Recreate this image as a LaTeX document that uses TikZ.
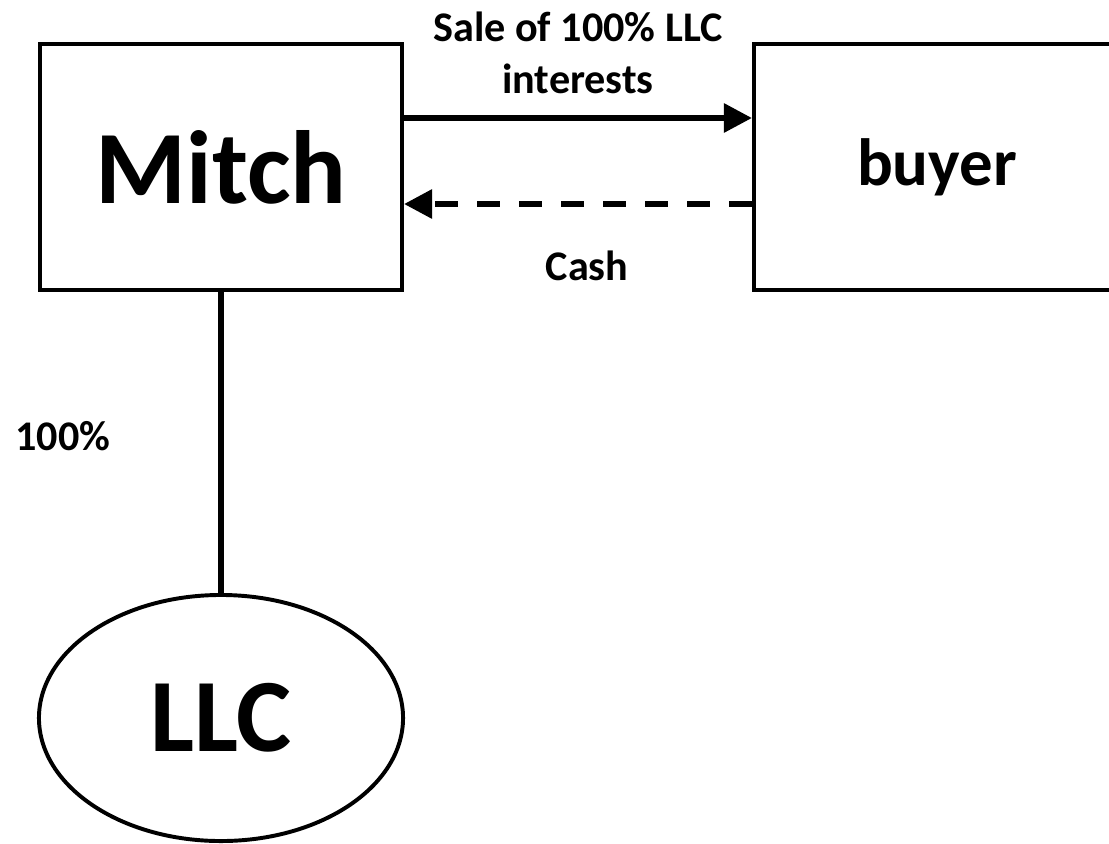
\documentclass[tikz,border=0pt]{standalone}
\usepackage{fontspec}
\setmainfont{Carlito}
\usetikzlibrary{arrows.meta,shapes.geometric,positioning}

\begin{document}
\begin{tikzpicture}[x=0.025cm, y=-0.025cm,
  party/.style={draw, line width=2.8pt, inner sep=0pt, font=\bfseries},
  flow/.style={line width=4.2pt, -{Triangle[length=20pt, width=20pt]}},
  lbl/.style={font=\fontsize{30}{37}\selectfont\bfseries, inner sep=0pt, align=center}]
\useasboundingbox (0,0) rectangle (1109,843);

% parties
\node[party, minimum width=9.05cm, minimum height=6.15cm,
      font=\fontsize{74}{80}\selectfont\bfseries] (mitch) at (221,167) {Mitch};
\node[party, minimum width=9.15cm, minimum height=6.15cm,
      font=\fontsize{47.5}{52}\selectfont\bfseries] (buyer) at (937,167) {buyer};
\node[party, ellipse, minimum width=9.1cm, minimum height=6.15cm,
      font=\fontsize{74}{80}\selectfont\bfseries] (llc) at (221,718) {LLC};

% sale and cash
\draw[flow] ([yshift=1.225cm]mitch.east) -- ([yshift=1.225cm]buyer.west)
  node[lbl, midway, above=0.52cm] (sale) {Sale of 100\% LLC\\interests};
\draw[flow, dash pattern=on 16.4pt off 13.5pt] ([yshift=-0.925cm]buyer.west) -- ([yshift=-0.925cm]mitch.east)
  node[lbl, midway, below=1.1cm, xshift=0.225cm] (cash) {Cash};

% ownership
\draw[line width=3.8pt] (mitch.south) -- (llc.north);
\node[lbl, anchor=base west] (share) at (15,450) {100\%};
\end{tikzpicture}
\end{document}
